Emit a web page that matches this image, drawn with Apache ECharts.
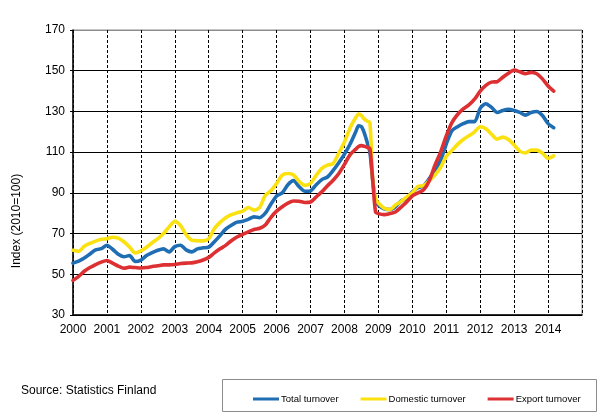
<!DOCTYPE html>
<html>
<head>
<meta charset="utf-8">
<style>html,body{margin:0;padding:0;background:#fff}#c{width:607px;height:418px}</style>
<script src="https://cdn.jsdelivr.net/npm/echarts@6/dist/echarts.min.js"></script>
</head>
<body>
<div id="c"></div>
<script>
// Month index counted from January 2000
var months = [0,2,4,6,8,10,12,14,16,18,20,22,24,26,28,30,32,34,36,38,40,42,44,46,48,50,52,54,56,58,60,62,64,66,68,70,72,74,76,78,80,82,84,86,88,90,92,94,96,98,100,101,102,103,104,105,106,107,108,110,112,114,116,118,120,122,124,126,128,130,132,134,136,138,140,142,144,146,148,150,152,154,156,158,160,162,164,166,168,170];
var yearLabels = ['2000','2001','2002','2003','2004','2005','2006','2007','2008','2009','2010','2011','2012','2013','2014',''];
var seriesNames = ['Total turnover','Domestic turnover','Export turnover'];
var totalTurnover = [55.5,56.5,58,60,62,62.6,64.3,62.3,59.8,58.6,59.2,56.3,57,59.2,60.6,61.8,62.5,61,63.6,64.3,62,61,62.5,63,63.3,66,69,72.2,74.1,75.6,76,77,78.2,77.8,80,84.5,88.5,90,94,96,93,90.8,91,94,96.5,97.8,101,104.8,109,114,120,123,122.5,119.5,115,110,96,86,84,82.2,81.8,83.2,86,87.3,90.5,92.5,93.5,97,101,106,114,120.5,122.5,124,125,125,131.5,133.8,132,129.5,130.5,131,130.5,129.5,128.2,129.5,130,128,124,122];
var domesticTurnover = [61.8,61.3,63.8,65.2,66.3,67.2,67.5,68.2,67.8,66,63.4,60.5,61.5,63.3,65.5,67.5,70,73.3,76,74,69.5,66.7,66.5,66.4,67.5,72.5,75.5,77.8,79.3,80.2,81,82.8,81.5,82.8,88.8,91,94.6,98.7,99.5,98.8,95.6,93.7,94.7,98.6,102,103.6,104.4,109.5,115,122,127,128.7,128,126.2,125.3,124.5,96,87,85,82.5,81.8,84,85.8,88,90,93.2,93.5,96,98.7,102.5,107.9,110.8,113.8,116.2,118,120,122.5,121.5,118.8,116.4,117.4,116.2,113.5,110.5,109.6,111,111,109.5,107,108.2];
var exportTurnover = [47,49,51.5,53.3,54.8,56,56.8,55.5,54,53,53.5,53.3,53.1,53.3,53.8,54.2,54.6,54.6,54.8,55.3,55.5,55.6,56.1,57,58.3,60.5,62.5,64.2,66.5,68.3,69.6,70.8,72,72.6,74.2,78,81,83.2,85,86,85.9,85.3,85.5,88,90.5,93.5,96.2,99.5,104,108.8,111.5,112.8,113.2,112.9,112.4,111.8,96,80.5,79.8,79.3,79.8,80.6,83,85.5,88.5,90,91.5,96,103.6,110,118,124.5,128.5,131.2,133.2,136,140,142.8,144.4,144.6,146.8,148.8,150.3,149.5,148.5,149.2,148.5,146,142.5,140];
var colors = ['#1f6db3','#fbe10f','#dc3032'];

function pairs(vals){ return months.map(function(m,i){ return [m, vals[i]]; }); }
var allVals = [totalTurnover, domesticTurnover, exportTurnover];

var chart = echarts.init(document.getElementById('c'), null, {renderer:'canvas'});
var fontMain = 'Arial, "Liberation Sans", sans-serif';
chart.setOption({
  animation: false,
  backgroundColor: '#fff',
  grid: {left: 73, right: 25, top: 30, bottom: 103, show: true, borderColor: '#8c8c8c', borderWidth: 1},
  xAxis: {
    type: 'value', min: 0, max: 180, interval: 12,
    axisLine: {lineStyle: {color: '#000', width: 1.5}},
    axisTick: {show: false},
    axisLabel: {color: '#000', fontSize: 12, fontFamily: fontMain, margin: 9,
      formatter: function(v){ return yearLabels[Math.round(v/12)] || ''; }},
    splitLine: {show: true, lineStyle: {color: '#000', type: [3,2], width: 1}}
  },
  yAxis: {
    type: 'value', min: 30, max: 170, interval: 20,
    axisLine: {show: true, lineStyle: {color: '#000', width: 1.5}},
    axisTick: {show: true, length: 3, lineStyle: {color: '#000'}},
    axisLabel: {color: '#000', fontSize: 12, fontFamily: fontMain, margin: 8},
    splitLine: {show: true, lineStyle: {color: ['#000','#000','#000','#000','#000','#000','#000','#8c8c8c'], width: 1}}
  },
  legend: {
    left: 248, top: 389, width: 345, selectedMode: false, orient: 'horizontal',
    itemWidth: 26, itemHeight: 3, itemGap: 22, icon: 'rect',
    textStyle: {color: '#000', fontSize: 9.5, fontFamily: fontMain, padding: [0,0,0,-3]},
    data: seriesNames
  },
  graphic: [
    {type: 'rect', shape: {x: 222.5, y: 379.5, width: 374, height: 32}, style: {fill: 'none', stroke: '#8c8c8c', lineWidth: 1}, z: -1},
    {type: 'text', x: 21, y: 391, style: {text: 'Source: Statistics Finland', font: '12px Arial, "Liberation Sans", sans-serif', fill: '#000', textVerticalAlign: 'middle'}},
    {type: 'text', x: 17, y: 221, rotation: Math.PI/2, style: {text: 'Index (2010=100)', font: '12px Arial, "Liberation Sans", sans-serif', fill: '#000', textAlign: 'center', textVerticalAlign: 'middle'}}
  ],
  series: seriesNames.map(function(name, i){
    return {
      name: name, type: 'line', data: pairs(allVals[i]), showSymbol: false, symbol: 'none',
      smooth: 0.25, color: colors[i],
      lineStyle: {width: 3.6, color: colors[i], cap: 'round', join: 'round'},
      z: 2 + i
    };
  })
});
</script>
</body>
</html>
